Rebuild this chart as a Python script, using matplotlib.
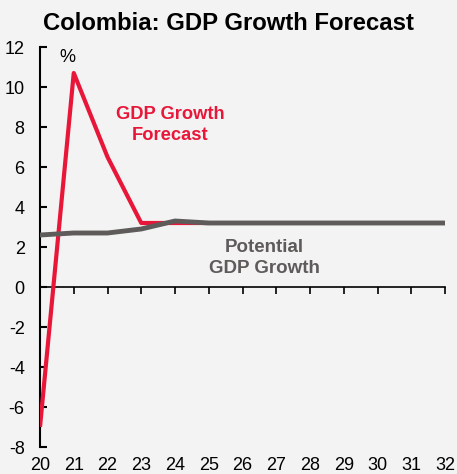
import matplotlib
matplotlib.use("Agg")
import matplotlib.pyplot as plt

plt.rcParams['font.family'] = ['Liberation Sans', 'DejaVu Sans']
plt.rcParams['axes.unicode_minus'] = False

years = list(range(20, 33))
forecast_years = [20, 21, 22, 23, 24, 25]
forecast = [-7.0, 10.7, 6.5, 3.2, 3.2, 3.2]
potential = [2.6, 2.7, 2.7, 2.9, 3.3, 3.2, 3.2, 3.2, 3.2, 3.2, 3.2, 3.2, 3.2]
yticks = [-8, -6, -4, -2, 0, 2, 4, 6, 8, 10, 12]

bg = '#f2f3f2'
red = '#e8173a'
gray = '#5f5b5b'

fig = plt.figure(figsize=(4.57, 4.74), dpi=100, facecolor=bg)
ax = fig.add_axes([40/457, 1-447/474, (445-40)/457, 400/474])
ax.set_facecolor(bg)

ax.plot(forecast_years, forecast, color=red, lw=3, solid_capstyle='butt', zorder=3)
ax.plot(years, potential, color=gray, lw=3.5, solid_capstyle='round', zorder=4)

ax.set_xlim(20, 32)
ax.set_ylim(-8, 12)
ax.set_yticks(yticks)
ax.set_xticks(years)
for s in ['top', 'right']:
    ax.spines[s].set_visible(False)
ax.spines['bottom'].set_position(('data', 0))
ax.spines['bottom'].set_linewidth(1.2)
ax.spines['left'].set_linewidth(1.5)
ax.tick_params(axis='y', direction='in', length=5, width=1.5, labelsize=13, pad=11)
ax.tick_params(axis='x', direction='out', length=5, width=1.2, labelbottom=False)

sec = ax.secondary_xaxis('bottom')
sec.spines['bottom'].set_visible(False)
sec.set_xticks(years)
sec.tick_params(axis='x', length=0, labelsize=13, pad=7)

fig.text(0.5, 1-23/474, 'Colombia: GDP Growth Forecast', ha='center', va='center',
         fontsize=17.2, fontweight='bold')
ax.text(20.8, 11.5, '%', fontsize=13, ha='center', va='center')
ax.text(23.85, 8.1, 'GDP Growth\nForecast', color=red, fontsize=13.2, fontweight='bold',
        ha='center', va='center', linespacing=1.25)
ax.text(26.65, 1.45, 'Potential\nGDP Growth', color=gray, fontsize=13.5, fontweight='bold',
        ha='center', va='center', linespacing=1.25)

fig.savefig('out.png', dpi=100, facecolor=bg)
